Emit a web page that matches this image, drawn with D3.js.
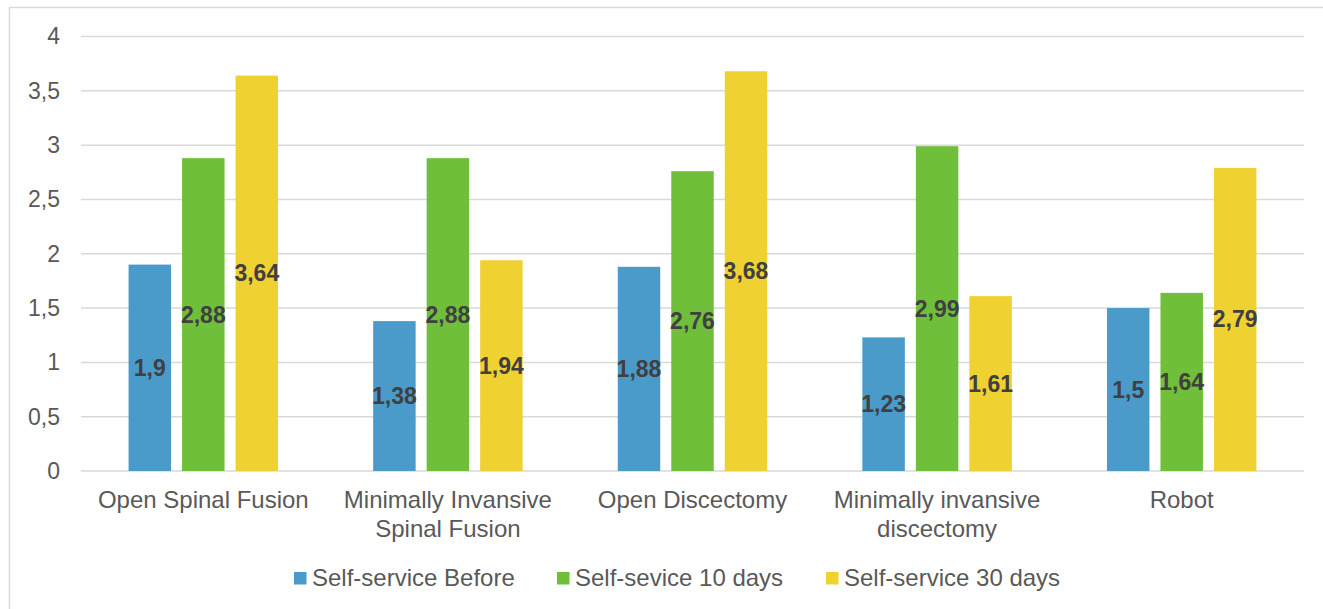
<!DOCTYPE html>
<html><head><meta charset="utf-8">
<script src="https://cdn.jsdelivr.net/npm/d3@7"></script>
<style>body{margin:0;background:#fff;} text{font-family:"Liberation Sans",Arial,sans-serif;}</style>
</head><body><svg id="c" width="1323" height="609"></svg>
<script>
const categories = [["Open Spinal Fusion"],["Minimally Invansive","Spinal Fusion"],["Open Discectomy"],["Minimally invansive","discectomy"],["Robot"]];
const seriesNames = ["Self-service Before","Self-sevice 10 days","Self-service 30 days"];
const before = [1.9, 1.38, 1.88, 1.23, 1.5];
const tenDays = [2.88, 2.88, 2.76, 2.99, 1.64];
const thirtyDays = [3.64, 1.94, 3.68, 1.61, 2.79];
const yTicks = [0, 0.5, 1, 1.5, 2, 2.5, 3, 3.5, 4];
const colors = ["#4a9bc9", "#6fbf3a", "#f0d132"];

const svg = d3.select("#c");
svg.append("rect").attr("x",9.5).attr("y",7.5).attr("width",1330).attr("height",620).attr("fill","#fff").attr("stroke","#d9d9d9").attr("stroke-width",1.5);

const cats = categories.map(c => c.join(" "));
const x0 = d3.scaleBand().domain(cats).range([81, 1304]);
const x1 = d3.scaleBand().domain(seriesNames).range([0, x0.bandwidth()]).paddingInner(0.206).paddingOuter(0.889);
const y = d3.scaleLinear().domain([0, 4]).range([471, 36.5]);

const fmt = v => String(v).replace(".", ",");

// gridlines
svg.append("g").selectAll("line").data(yTicks).join("line")
  .attr("x1", 81).attr("x2", 1304).attr("y1", d => y(d)).attr("y2", d => y(d))
  .attr("stroke", "#d9d9d9").attr("stroke-width", 1.5);

// y axis labels
const yAxis = d3.axisLeft(y).tickValues(yTicks).tickFormat(fmt).tickSize(0).tickPadding(21);
const ya = svg.append("g").attr("transform", "translate(81,0)").call(yAxis);
ya.select(".domain").remove();
ya.selectAll("text").attr("font-size", 23).attr("fill", "#595959").attr("font-family", "Liberation Sans, Arial, sans-serif");

const data = [before, tenDays, thirtyDays];
const rows = [];
cats.forEach((c, i) => seriesNames.forEach((s, j) => rows.push({c, s, v: data[j][i], j})));

svg.append("g").selectAll("rect").data(rows).join("rect")
  .attr("x", d => x0(d.c) + x1(d.s)).attr("width", x1.bandwidth())
  .attr("y", d => y(d.v)).attr("height", d => y(0) - y(d.v))
  .attr("fill", d => colors[d.j]);

svg.append("g").selectAll("text").data(rows).join("text")
  .attr("x", d => x0(d.c) + x1(d.s) + x1.bandwidth()/2)
  .attr("y", d => (y(d.v) + y(0))/2 + 8)
  .attr("text-anchor", "middle").attr("font-size", 23).attr("font-weight", "bold")
  .attr("fill", "#404040").text(d => fmt(d.v));

// category labels
const cg = svg.append("g");
categories.forEach((lines, i) => {
  const t = cg.append("text").attr("x", x0(cats[i]) + x0.bandwidth()/2).attr("y", 508)
    .attr("text-anchor", "middle").attr("font-size", 24).attr("fill", "#595959");
  lines.forEach((l, k) => t.append("tspan").attr("x", x0(cats[i]) + x0.bandwidth()/2).attr("dy", k ? 29 : 0).text(l));
});

// legend
const legX = [294, 557, 826];
const lg = svg.append("g");
seriesNames.forEach((s, j) => {
  lg.append("rect").attr("x", legX[j]).attr("y", 572).attr("width", 12.5).attr("height", 12.5).attr("fill", colors[j]);
  lg.append("text").attr("x", legX[j] + 18).attr("y", 586).attr("font-size", 24).attr("fill", "#595959").text(s);
});
</script></body></html>
